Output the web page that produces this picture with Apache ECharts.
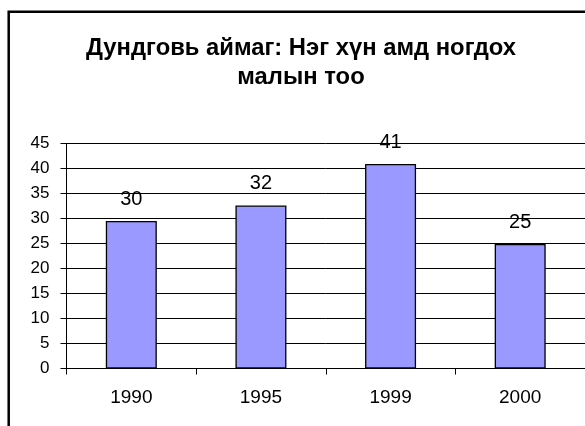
<!DOCTYPE html>
<html>
<head>
<meta charset="utf-8">
<script src="https://cdn.jsdelivr.net/npm/echarts@6/dist/echarts.min.js"></script>
<style>
  html, body { margin: 0; padding: 0; background: #fff; }
  #chart { width: 585px; height: 426px; }
</style>
</head>
<body>
<div id="chart"></div>
<script>
const titleLines = ["Дундговь аймаг: Нэг хүн амд ногдох", "малын тоо"];
const years = ["1990", "1995", "1999", "2000"];
const values = [29.5, 32.6, 40.9, 24.9];
const valueLabels = ["30", "32", "41", "25"];

const FONT = "Liberation Sans, Arial, sans-serif";

const chart = echarts.init(document.getElementById("chart"));

const option = {
  animation: false,
  backgroundColor: "#fff",
  title: {
    text: titleLines.join("\n"),
    left: 296, top: 29,
    textAlign: "center",
    textStyle: { fontFamily: FONT, fontSize: 23.8, fontWeight: "bold", color: "#000", lineHeight: 29, align: "center" }
  },
  graphic: [{
    type: "rect",
    shape: { x: 8.7, y: 11.7, width: 620, height: 520 },
    style: { fill: null, stroke: "#000", lineWidth: 2.5 },
    silent: true
  }],
  grid: { left: 66.5, right: -1, top: 143.5, bottom: 57.5 },
  xAxis: {
    type: "category",
    data: years,
    axisLine: { lineStyle: { color: "#000", width: 1 } },
    axisTick: { show: true, length: 6, lineStyle: { color: "#000" } },
    axisLabel: { fontFamily: FONT, fontSize: 19, color: "#000", margin: 20 }
  },
  yAxis: {
    type: "value",
    min: 0, max: 45, interval: 5,
    axisLine: { show: true, lineStyle: { color: "#000", width: 1 } },
    axisTick: { show: true, length: 6, lineStyle: { color: "#000" } },
    axisLabel: { fontFamily: FONT, fontSize: 17, color: "#000", margin: 17 },
    splitLine: { show: true, lineStyle: { color: "#000", width: 1 } }
  },
  series: [{
    type: "bar",
    data: values,
    barWidth: 51,
    itemStyle: { color: "#9999FF", borderColor: "#000", borderWidth: 1.3 },
    label: {
      show: true,
      position: "top",
      distance: 12,
      fontFamily: FONT, fontSize: 20, color: "#000",
      formatter: (p) => valueLabels[p.dataIndex]
    }
  }]
};

chart.setOption(option);
</script>
</body>
</html>
